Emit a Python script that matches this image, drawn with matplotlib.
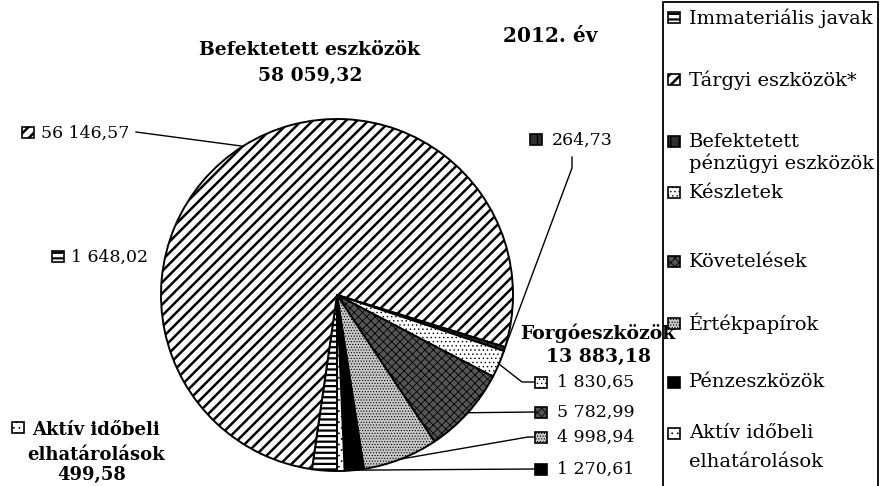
import matplotlib
matplotlib.use("Agg")
import numpy as np
import matplotlib.pyplot as plt
from matplotlib.patches import Rectangle

plt.rcParams['font.family'] = ['DejaVu Serif']
plt.rcParams['hatch.linewidth'] = 2.0

# adatok (millió Ft)
categories = ["Immateriális javak", "Tárgyi eszközök*", "Befektetett\npénzügyi eszközök",
              "Készletek", "Követelések", "Értékpapírok", "Pénzeszközök",
              "Aktív időbeli\nelhatárolások"]
values = [1648.02, 56146.57, 264.73, 1830.65, 5782.99, 4998.94, 1270.61, 499.58]
group_names = ["Befektetett eszközök", "Forgóeszközök"]
group_totals = [58059.32, 13883.18]
title = "2012. év"

# mintazatok
faces = ["white", "white", "#303030", "white", "#555555", "#c8c8c8", "black", "white"]
hatches = ["---", "///", "||", "....", "xxxx", "......", "", "..."]
hatch_lw = [1.6, 1.8, 1.0, 0.5, 0.6, 0.5, 1.0, 0.5]

W, H = 888, 486


def huf(v):
    return f"{v:,.2f}".replace(",", " ").replace(".", ",")


def Y(y):
    return H - y


def style(p, i):
    p.set_hatch(hatches[i])
    if hasattr(p, "set_hatch_linewidth"):
        p.set_hatch_linewidth(hatch_lw[i])


fig = plt.figure(figsize=(W / 100, H / 100), dpi=100)
ax = fig.add_axes([0, 0, 1, 1])

cx, cy, R = 337, Y(295), 176
wedges, _ = ax.pie(values, startangle=270, counterclock=False, center=(cx, cy), radius=R,
                   colors=faces, wedgeprops=dict(edgecolor="black", linewidth=1.4))
for i, w in enumerate(wedges):
    style(w, i)

ax.set_xlim(0, W)
ax.set_ylim(0, H)
ax.set_aspect("equal")
ax.axis("off")


def marker(i, x, y, w=12, h=11):
    r = Rectangle((x, Y(y) - h / 2), w, h, facecolor=faces[i], edgecolor="black",
                  linewidth=1.2, zorder=5)
    style(r, i)
    ax.add_patch(r)


def edge_point(i):
    t = np.deg2rad((wedges[i].theta1 + wedges[i].theta2) / 2)
    return cx + R * np.cos(t), cy + R * np.sin(t)


# ertek cimkek: (marker x, y, leader torespontok)
label_pos = {
    1: (22, 133, [(136, 132)]),
    0: (52, 257, None),
    2: (530, 140, [(572, 168), (572, 157)]),
    3: (535, 382, [(522, 382), (535, 382)]),
    4: (535, 412, [(535, 412)]),
    5: (535, 437, [(528, 437), (535, 437)]),
    6: (535, 469, [(535, 469)]),
}
for i, (mx, my, path) in label_pos.items():
    marker(i, mx, my)
    dx = 19 if mx < 500 else 22
    ax.text(mx + dx, Y(my), huf(values[i]), fontsize=12.5, va="center", ha="left")
    if path:
        ex, ey = edge_point(i)
        xs = [ex] + [p[0] for p in path]
        ys = [ey] + [Y(p[1]) for p in path]
        ax.plot(xs, ys, color="black", linewidth=1)

# aktiv idobeli elhatarolasok - kulon, felkover
marker(7, 12, 427)
akt = categories[7].split("\n")
ax.text(96, Y(430), akt[0], fontsize=13, fontweight="bold", ha="center", va="center")
ax.text(96, Y(455), akt[1], fontsize=13, fontweight="bold", ha="center", va="center")
ax.text(92, Y(475), huf(values[7]), fontsize=13, fontweight="bold", ha="center", va="center")

# csoportok
ax.text(310, Y(63), f"{group_names[0]}\n{huf(group_totals[0])}", fontsize=13.5,
        fontweight="bold", ha="center", va="center", linespacing=1.55)
ax.text(598, Y(345), f"{group_names[1]}\n{huf(group_totals[1])}", fontsize=13.5,
        fontweight="bold", ha="center", va="center", linespacing=1.35, zorder=6)
ax.text(550, Y(36), title, fontsize=14.5, fontweight="bold", ha="center", va="center")

# jelmagyarazat
ax.add_patch(Rectangle((663, Y(490)), 215, 488, facecolor="none", edgecolor="black",
                       linewidth=1.3, zorder=4))
leg_y = [18, 80, 142, 193, 262, 323, 382, 433]
leg_gap = [0, 0, 21, 0, 0, 0, 0, 29]
for i, name in enumerate(categories):
    marker(i, 668, leg_y[i], w=12, h=11)
    for k, line in enumerate(name.split("\n")):
        ax.text(689, Y(leg_y[i] + k * leg_gap[i]), line, fontsize=14, va="center", ha="left")

fig.savefig("out.png", dpi=100)
